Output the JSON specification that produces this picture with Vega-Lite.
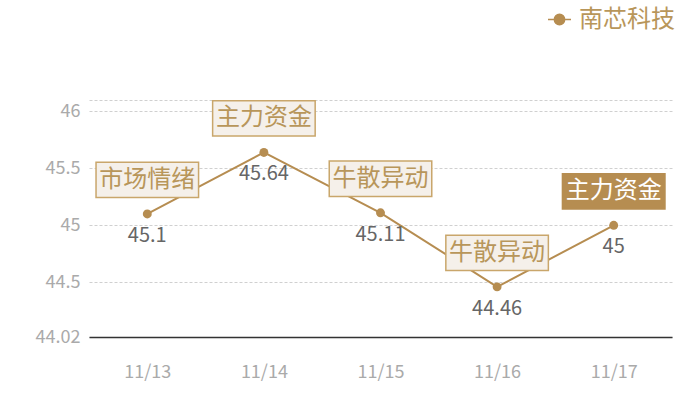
{
  "$schema": "https://vega.github.io/schema/vega-lite/v6.json",
  "autosize": {"type": "none"},
  "padding": {"left": 89, "top": 100, "right": 28, "bottom": 63},
  "width": 583,
  "height": 237,
  "background": "white",
  "config": {
    "view": {"stroke": null},
    "font": "Noto Sans CJK SC"
  },
  "data": {
    "values": [
      {"date": "11/13", "value": 45.1, "tag": "市场情绪", "hot": false, "stock": "南芯科技"},
      {"date": "11/14", "value": 45.64, "tag": "主力资金", "hot": false, "stock": "南芯科技"},
      {"date": "11/15", "value": 45.11, "tag": "牛散异动", "hot": false, "stock": "南芯科技"},
      {"date": "11/16", "value": 44.46, "tag": "牛散异动", "hot": false, "stock": "南芯科技"},
      {"date": "11/17", "value": 45, "tag": "主力资金", "hot": true, "stock": "南芯科技"}
    ]
  },
  "encoding": {
    "x": {
      "field": "date", "type": "ordinal", "sort": null,
      "scale": {"type": "point", "padding": 0.5},
      "axis": {
        "title": null, "labelAngle": 0, "ticks": false, "grid": false,
        "domainColor": "#333", "domainWidth": 1.5,
        "labelColor": "#aaa", "labelFontSize": 18, "labelPadding": 26
      }
    },
    "y": {
      "field": "value", "type": "quantitative",
      "scale": {"domain": [44.02, 46.1], "nice": false, "zero": false},
      "axis": {
        "title": null, "domain": false, "ticks": false,
        "values": [44.02, 44.5, 45, 45.5, 46, 46.1],
        "labelExpr": "datum.value > 46.05 ? '' : toString(datum.value)",
        "gridColor": "#d0d0d0", "gridDash": [3, 2], "gridWidth": 1,
        "labelColor": "#aaa", "labelFontSize": 18, "labelPadding": 9
      }
    }
  },
  "layer": [
    {
      "mark": {"type": "line", "strokeWidth": 2},
      "encoding": {
        "color": {
          "field": "stock", "type": "nominal",
          "scale": {"range": ["#b68d51"]},
          "legend": {
            "title": null, "orient": "none", "legendX": 458, "legendY": -93,
            "symbolType": "M-1,0H1M0.45,0A0.45,0.45 0 1,1 -0.45,0A0.45,0.45 0 1,1 0.45,0Z",
            "symbolSize": 529, "symbolFillColor": "#b68d51", "symbolStrokeColor": "#b68d51",
            "symbolStrokeWidth": 1.5, "labelFontSize": 24, "labelColor": "#b8965a",
            "labelOffset": 7
          }
        }
      }
    },
    {
      "mark": {"type": "point", "filled": true, "size": 80, "opacity": 1, "color": "#b68d51"}
    },
    {
      "mark": {"type": "text", "dy": 22, "fontSize": 20, "color": "#666"},
      "encoding": {"text": {"field": "value", "type": "quantitative", "format": "~g"}}
    },
    {
      "mark": {
        "type": "point", "filled": false, "opacity": 1, "yOffset": -34,
        "shape": "M-1.45,-0.5H1.45V0.5H-1.45Z", "size": 5000, "strokeWidth": 1.5
      },
      "encoding": {
        "fill": {"condition": {"test": "datum.hot", "value": "#b68d51"}, "value": "#f5f0ea"},
        "stroke": {"condition": {"test": "datum.hot", "value": "#b68d51"}, "value": "#c9a66b"}
      }
    },
    {
      "mark": {"type": "text", "yOffset": -34, "fontSize": 24, "baseline": "middle"},
      "encoding": {
        "text": {"field": "tag"},
        "color": {"condition": {"test": "datum.hot", "value": "#ffffff"}, "value": "#b8965a"}
      }
    }
  ]
}
